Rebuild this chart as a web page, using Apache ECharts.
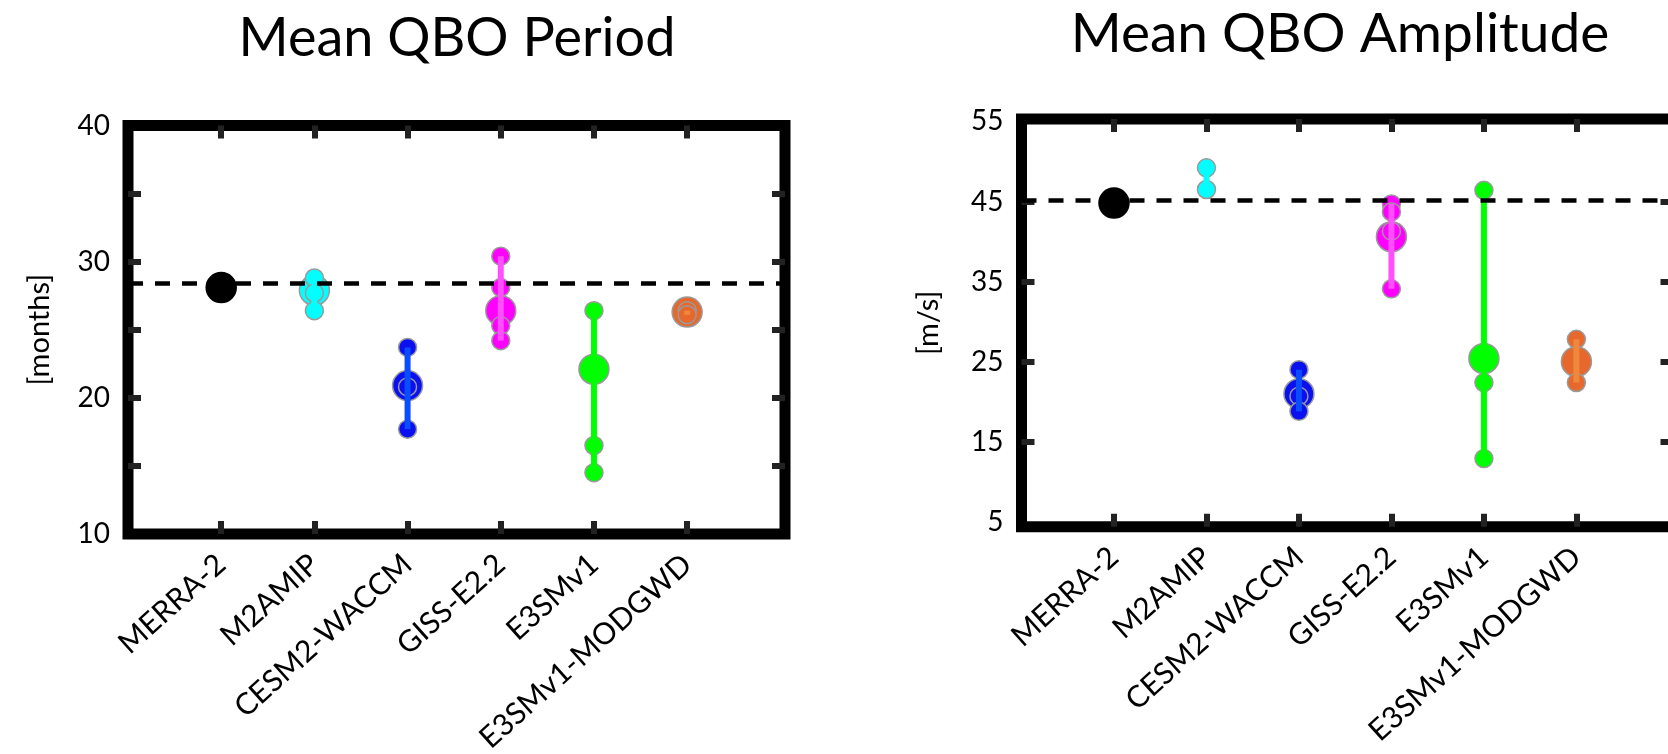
<!DOCTYPE html>
<html>
<head>
<meta charset="utf-8">
<script src="https://cdn.jsdelivr.net/npm/echarts@6/dist/echarts.min.js"></script>
<style>
html,body{margin:0;padding:0;background:#fff;}
#c{width:1668px;height:754px;}
</style>
</head>
<body>
<div id="c"></div>
<script>
// ---------- data ----------
const categories = ['MERRA-2', 'M2AMIP', 'CESM2-WACCM', 'GISS-E2.2', 'E3SMv1', 'E3SMv1-MODGWD'];
const dotColors  = ['#000000', '#00ffff', '#0a10f0', '#ff00ff', '#00ff00', '#e6682c'];
const lineColors = ['#000000', '#00ffff', '#0a4cff', '#ff50ff', '#00ff00', '#f0883c'];

// Mean QBO period [months]
const periodMeans   = [28.1, 27.9, 20.9, 26.4, 22.1, 26.3];
const periodMembers = [[], [28.8, 27.7, 26.4], [23.7, 20.8, 17.7], [30.4, 28.1, 25.3, 24.2], [26.4, 16.5, 14.5], [26.4, 26.1]];
const periodRef = 28.45;
const periodTickLabels = [10, 20, 30, 40];
const periodTickMarks  = [15, 20, 25, 30, 35];

// Mean QBO amplitude [m/s]
const ampMeans   = [44.8, null, 21.0, 40.6, 25.4, 25.0];
const ampMembers = [[], [49.2, 46.5], [24.0, 20.7, 18.8], [44.7, 43.7, 41.3, 34.1], [46.4, 22.4, 12.9], [27.8, 22.4]];
const ampRef = 45.2;
const ampTickLabels = [5, 15, 25, 35, 45, 55];
const ampTickMarks  = [15, 25, 35, 45];

const catPositions = [1, 2, 3, 4, 5, 6];

// ---------- build ----------
const FONT = 'Lato';
const TICK = {color: '#222', width: 6};

function xAxes(gridIndex) {
  const common = {
    type: 'value', gridIndex: gridIndex, min: 0, max: 7.05,
    axisLine: {show: false}, splitLine: {show: false},
    axisTick: {show: true, inside: true, length: 13, customValues: catPositions, lineStyle: TICK}
  };
  return [
    Object.assign({}, common, {
      position: 'bottom',
      axisLabel: {customValues: catPositions, rotate: 42, margin: 26, fontSize: 30,
                  fontFamily: FONT, color: '#000',
                  formatter: v => categories[Math.round(v) - 1] || ''}
    }),
    Object.assign({}, common, {position: 'top', axisLabel: {show: false}})
  ];
}

function yAxes(gridIndex, min, max, labels, marks, name, gap) {
  const common = {
    type: 'value', gridIndex: gridIndex, min: min, max: max,
    axisLine: {show: false}, splitLine: {show: false}
  };
  const ticks = {show: true, inside: true, length: 13, customValues: marks, lineStyle: TICK};
  return [
    // labels + name only
    Object.assign({}, common, {
      position: 'left',
      axisTick: {show: false},
      name: name, nameLocation: 'middle', nameGap: gap, nameRotate: 90,
      nameTextStyle: {fontSize: 29, fontFamily: FONT, color: '#000'},
      axisLabel: {customValues: labels, margin: 18, fontSize: 28, fontFamily: FONT, color: '#000'}
    }),
    // tick marks, left side
    Object.assign({}, common, {position: 'left', axisTick: ticks, axisLabel: {show: false}}),
    // tick marks, right side
    Object.assign({}, common, {position: 'right', axisTick: ticks, axisLabel: {show: false}})
  ];
}

function panelSeries(xi, yi, means, members, ref) {
  const meanData = [];
  const memberData = [];
  const rangeData = [];
  categories.forEach((c, i) => {
    const x = catPositions[i];
    const m = means[i];
    const hasMean = m !== null && m !== undefined;
    if (hasMean) {
      meanData.push({value: [x, m], itemStyle: {color: dotColors[i], opacity: 1,
        borderColor: i === 0 ? '#000' : '#9a9a9a', borderWidth: 1.5}});
    }
    members[i].forEach(v => {
      memberData.push({value: [x, v], itemStyle: {color: dotColors[i], opacity: 1,
        borderColor: '#9a9a9a', borderWidth: 1.5}});
    });
    const all = members[i].concat(hasMean ? [m] : []);
    if (members[i].length > 0) {
      rangeData.push([x, Math.min.apply(null, all), Math.max.apply(null, all), i]);
    }
  });
  return [
    {type: 'scatter', xAxisIndex: xi, yAxisIndex: yi, symbol: 'circle', symbolSize: 30,
     data: meanData, z: 2, silent: true, itemStyle: {opacity: 1}},
    {type: 'scatter', xAxisIndex: xi, yAxisIndex: yi, symbol: 'circle', symbolSize: 18,
     data: memberData, z: 3, silent: true, itemStyle: {opacity: 1}},
    {type: 'custom', xAxisIndex: xi, yAxisIndex: yi, z: 4, silent: true,
     encode: {x: 0, y: [1, 2]},
     data: rangeData,
     renderItem: function (params, api) {
       const x = api.value(0);
       const p1 = api.coord([x, api.value(1)]);
       const p2 = api.coord([x, api.value(2)]);
       return {type: 'line', shape: {x1: p1[0], y1: p1[1], x2: p2[0], y2: p2[1]},
               style: {stroke: lineColors[api.value(3)], lineWidth: 6}};
     }},
    {type: 'scatter', xAxisIndex: xi, yAxisIndex: yi, data: [], z: 10, silent: true,
     markLine: {silent: true, symbol: 'none', label: {show: false},
                lineStyle: {color: '#000', width: 4.5, type: [15, 12]},
                data: [{yAxis: ref}]}}
  ];
}

const option = {
  animation: false,
  backgroundColor: '#fff',
  title: [
    {text: 'Mean QBO Period', left: 452, top: 7, textAlign: 'center',
     textStyle: {fontSize: 54, fontWeight: 'normal', fontFamily: FONT, color: '#000'}},
    {text: 'Mean QBO Amplitude', left: 1335, top: 2, textAlign: 'center',
     textStyle: {fontSize: 55, fontWeight: 'normal', fontFamily: FONT, color: '#000'}}
  ],
  grid: [
    {left: 128, top: 125.5, width: 657, height: 408.5, show: true, outerBoundsMode: 'none',
     containLabel: false, borderWidth: 11, borderColor: '#000', backgroundColor: 'transparent'},
    {left: 1021.5, top: 119, width: 652, height: 407.7, show: true, outerBoundsMode: 'none',
     containLabel: false, borderWidth: 11, borderColor: '#000', backgroundColor: 'transparent'}
  ],
  xAxis: xAxes(0).concat(xAxes(1)),
  yAxis: yAxes(0, 10, 40, periodTickLabels, periodTickMarks, '[months]', 74)
    .concat(yAxes(1, 4.4, 55.3, ampTickLabels, ampTickMarks, '[m/s]', 78)),
  series: panelSeries(0, 0, periodMeans, periodMembers, periodRef)
    .concat(panelSeries(2, 3, ampMeans, ampMembers, ampRef))
};

const chart = echarts.init(document.getElementById('c'), null, {renderer: 'canvas'});
chart.setOption(option);
</script>
</body>
</html>
